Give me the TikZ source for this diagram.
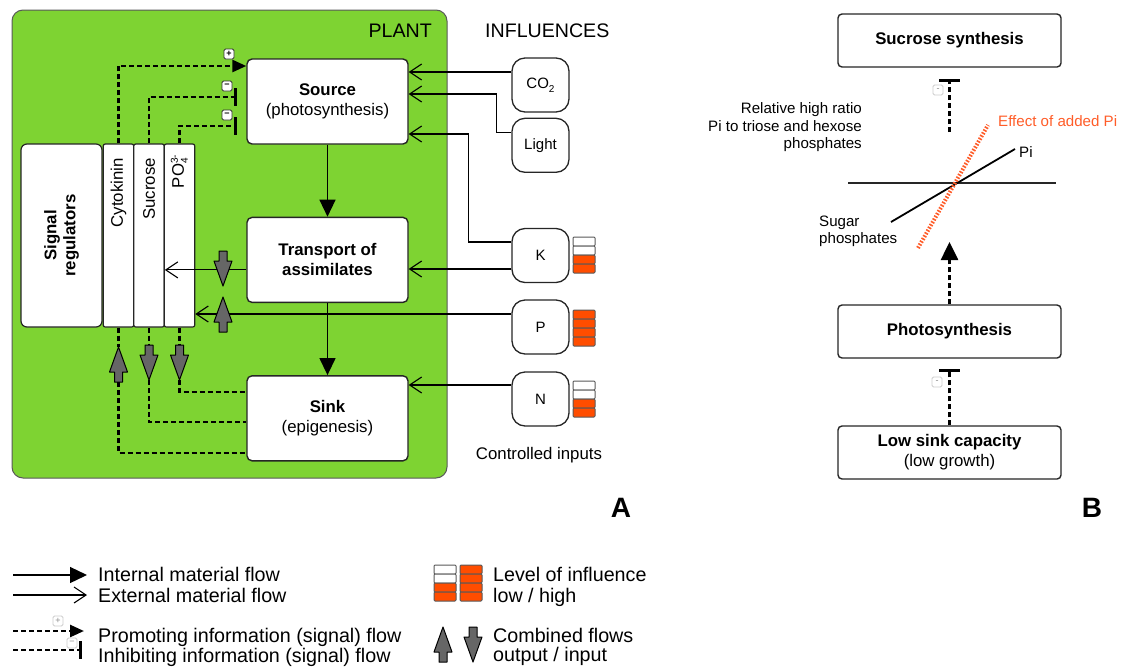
\documentclass[tikz,border=0pt]{standalone}
\usepackage{xcolor}
\usepackage{fontspec}
\setmainfont{Liberation Sans}
\usepackage{tikz}
\usetikzlibrary{arrows.meta, positioning}

\definecolor{plantgreen}{RGB}{126,211,50}
\definecolor{levelorange}{RGB}{255,77,0}
\definecolor{effectorange}{RGB}{255,92,40}

\tikzset{
  box/.style={draw=black!85, line width=1.4pt, fill=white, rounded corners=5pt,
    minimum width=161pt, minimum height=85pt, inner sep=0pt, align=center,
    font=\fontsize{16.8}{20}\selectfont},
  bbox/.style={box, minimum width=223pt, minimum height=53pt, rounded corners=4pt},
  colbox/.style={draw=black!85, line width=1.2pt, fill=white, rounded corners=2pt,
    minimum width=30.5pt, minimum height=183pt, inner sep=0pt},
  inbox/.style={draw=black!85, line width=1.3pt, fill=white, rounded corners=13pt,
    minimum width=57pt, minimum height=54pt, inner sep=0pt,
    font=\fontsize{15}{17}\selectfont},
  txt/.style={inner sep=0pt, font=\fontsize{16.8}{20}\selectfont},
  headtxt/.style={inner sep=0pt, font=\fontsize{19.6}{22}\selectfont},
  smalltxt/.style={inner sep=0pt, font=\fontsize{15.1}{18}\selectfont},
  legtxt/.style={inner sep=0pt, font=\fontsize{19.7}{22}\selectfont},
  signbox/.style={draw=black!80, fill=white, line width=0.8pt, rounded corners=1.5pt,
    minimum size=10pt, inner sep=0pt, font=\fontsize{9}{9}\selectfont\bfseries},
  faintsign/.style={signbox, draw=black!20, text=black!45, font=\fontsize{9}{9}\selectfont},
  intflow/.style={line width=1.3pt, -{Triangle[width=16pt,length=17pt]}},
  extflow/.style={line width=1.1pt, -{Straight Barb[width=16pt,length=12pt]}},
  signal/.style={line width=2.6pt, dash pattern=on 5pt off 3pt},
  promote/.style={signal, -{Triangle[width=12pt,length=14pt]}},
  bigpromote/.style={signal, -{Triangle[width=17pt,length=18pt]}},
  inhibit/.style={signal, -{Bar[width=18pt,line width=3.2pt]}},
  wideinhibit/.style={signal, -{Bar[width=21pt,line width=3.2pt]}},
  combflow/.style={draw=black, fill=black!60, line width=1pt, line join=round},
  levelcell/.style={draw=black!65, line width=1pt, rounded corners=1pt}
}

% block arrows for combined flows (tip at the named point)
\newcommand{\flowup}[1]{\draw[combflow] (#1) -- ++(9,25) -- ++(-5,0) -- ++(0,10) -- ++(-8,0) -- ++(0,-10) -- ++(-5,0) -- cycle;}
\newcommand{\flowdown}[1]{\draw[combflow] (#1) -- ++(9,-25) -- ++(-5,0) -- ++(0,-10) -- ++(-8,0) -- ++(0,10) -- ++(-5,0) -- cycle;}
% level of influence: x, top y, number of empty cells
\newcommand{\levelbar}[3]{%
  \foreach \lv in {0,...,3}{%
    \ifnum\lv<#3\relax \def\lvfill{white}\else \def\lvfill{levelorange}\fi
    \draw[levelcell, fill=\lvfill] (#1,#2+9*\lv) rectangle ++(22,9);
  }}

\begin{document}
\begin{tikzpicture}[x=1pt, y=-1pt]
  \useasboundingbox (0,0) rectangle (1122,670);
  % Plant
  \draw[fill=plantgreen, draw=black!65, line width=1pt, rounded corners=11pt] (12,10) rectangle (447,478);
  \node[headtxt, anchor=base east] (plant) at (432,37) {PLANT};
  \node[headtxt, anchor=base west] (influences) at (485,37) {INFLUENCES};

  % Processes
  \node[box] (src) at (327.5,101.5) {\textbf{Source}\\(photosynthesis)};
  \node[box, below=72pt of src] (trans) {\textbf{Transport of}\\\textbf{assimilates}};
  \node[box, below=72pt of trans] (sink) {\textbf{Sink}\\(epigenesis)};

  % Signal regulators
  \node[colbox, rounded corners=6pt, minimum width=81pt] (sigreg) at (61.5,235.5) {};
  \node[txt, rotate=90, align=center, font=\fontsize{16.8}{19}\selectfont\bfseries] (sigtxt) at (sigreg) {Signal\\regulators};
  \node[colbox] (cyto) at (118.5,235.5) {};
  \node[colbox] (suc) at (149,235.5) {};
  \node[colbox] (po) at (179.5,235.5) {};
  \node[txt, rotate=90, anchor=east] (cytotxt) at (118.5,158) {Cytokinin};
  \node[txt, rotate=90, anchor=east] (suctxt) at (149,158) {Sucrose};
  \node[txt, rotate=90, anchor=east] (potxt) at (179.5,158) {PO\rlap{\fontsize{10}{10}\selectfont\raisebox{6pt}{3-}}\raisebox{-4pt}{\fontsize{10}{10}\selectfont 4}};

  % Influences
  \node[inbox] (co2) at (540.5,85) {CO\raisebox{-4pt}{\fontsize{10}{10}\selectfont 2}};
  \node[inbox, below=5pt of co2] (light) {Light};
  \node[inbox] (kbox) at (540.5,255.5) {K};
  \node[inbox] (pbox) at (540.5,327) {P};
  \node[inbox] (nbox) at (540.5,399) {N};
  \node[txt, anchor=base] (ctrl) at (539,459) {Controlled inputs};
  \levelbar{573}{237}{2}
  \levelbar{573}{310}{0}
  \levelbar{573}{381}{2}

  % Internal material flow
  \draw[intflow] (src) -- (trans);
  \draw[intflow] (trans) -- (sink);

  % External material flow
  \coordinate (co2out) at ([yshift=13pt]co2.west);
  \draw[extflow] (co2out) -- (co2out -| src.east);
  \draw[extflow] ([yshift=13pt]light.west) -- ++(-15,0) |- ([yshift=7.5pt]src.east);
  \draw[extflow] ([yshift=13.5pt]kbox.west) -- ++(-43,0) |- ([yshift=-32.5pt]src.east);
  \coordinate (kout) at ([yshift=-13.5pt]kbox.west);
  \draw[extflow] (kout) -- (kout -| trans.east);
  \coordinate (pout) at ([yshift=13pt]pbox.west);
  \draw[extflow] (pout) -- (pout -| po.east);
  \coordinate (nout) at ([yshift=14pt]nbox.west);
  \draw[extflow] (nout) -- (nout -| sink.east);
  \coordinate (transout) at ([yshift=-10pt]trans.west);
  \draw[extflow] (transout) -- (transout -| suc.east);

  % Signals to source
  \draw[promote] (cyto.north) |- ([yshift=35.5pt]src.west);
  \draw[inhibit] (suc.north) |- ([xshift=-9pt,yshift=4.5pt]src.west);
  \draw[inhibit] (po.north) |- ([xshift=-9pt,yshift=-24.5pt]src.west);
  \node[signbox] (plus) at (229,54) {+};
  \node[signbox] (minusa) at (227,86) {−};
  \node[signbox] (minusb) at (227,115) {−};

  % Combined flows at transport
  \coordinate (transin) at (223,286);
  \coordinate (transback) at (223,297);
  \flowdown{transin}
  \flowup{transback}

  % Signals from sink
  \coordinate (cytoup) at (118.5,347);
  \coordinate (sucdown) at (149,380);
  \coordinate (podown) at (179.5,380);
  \draw[signal] (cyto.south) -- (cytoup);
  \draw[signal] ([yshift=-35pt]cytoup) |- ([yshift=-34.5pt]sink.west);
  \draw[signal] (suc.south) -- ([yshift=35pt]sucdown);
  \draw[signal] (sucdown) |- ([yshift=-3.5pt]sink.west);
  \draw[signal] (po.south) -- ([yshift=35pt]podown);
  \draw[signal] (podown) |- ([yshift=26.5pt]sink.west);
  \flowup{cytoup}
  \flowdown{sucdown}
  \flowdown{podown}

  \node[inner sep=0pt, anchor=base, font=\fontsize{28}{30}\selectfont\bfseries] (panela) at (621,517) {A};

  % Panel B
  \node[bbox] (sucsyn) at (949.5,40.5) {\textbf{Sucrose synthesis}};
  \node[bbox] (photo) at (949.5,331.5) {\textbf{Photosynthesis}};
  \node[bbox] (lowsink) at (949.5,452.5) {\textbf{Low sink capacity}\\(low growth)};
  \coordinate (ratio) at (949.5,132);
  \coordinate (phtip) at (949.5,242);
  \draw[wideinhibit] (ratio) -- ([yshift=-11pt]sucsyn.south);
  \draw[bigpromote] (photo.north) -- (phtip);
  \draw[wideinhibit] (lowsink.north) -- ([yshift=-10pt]photo.south);
  \node[faintsign] (minusc) at (938,90) {-};
  \node[faintsign] (minusd) at (937,382) {-};
  % ratio lines
  \coordinate (axisl) at (848,183);
  \coordinate (axisr) at (1056,183);
  \coordinate (pilow) at (891,222);
  \coordinate (pihigh) at (1015,149);
  \coordinate (effl) at (918,248);
  \coordinate (effh) at (988,125);
  \draw[line width=1.1pt, black!85] (axisl) -- (axisr);
  \draw[line width=1.8pt] (pilow) -- (pihigh);
  \draw[effectorange, line width=4pt, dash pattern=on 1.6pt off 1.6pt] (effl) -- (effh);
  \node[smalltxt, anchor=base east] (rat1) at (862,113) {Relative high ratio};
  \node[smalltxt, anchor=base east] (rat2) at (862,131) {Pi to triose and hexose};
  \node[smalltxt, anchor=base east] (rat3) at (862,148) {phosphates};
  \node[smalltxt, anchor=base west, text=effectorange] (efftxt) at (998,126) {Effect of added Pi};
  \node[smalltxt, anchor=base west] (pitxt) at (1019,157) {Pi};
  \node[smalltxt, anchor=base west] (sug1) at (819,226) {Sugar};
  \node[smalltxt, anchor=base west] (sug2) at (819,243) {phosphates};
  \node[inner sep=0pt, anchor=base, font=\fontsize{28}{30}\selectfont\bfseries] (panelb) at (1092,517) {B};

  % Legend
  \coordinate (lgintl) at (13,575); \coordinate (lgintr) at (87,575);
  \coordinate (lgextl) at (13,595); \coordinate (lgextr) at (87,595);
  \coordinate (lgprol) at (13,631); \coordinate (lgpror) at (84,631);
  \coordinate (lginhl) at (13,650); \coordinate (lginhr) at (82,650);
  \draw[intflow] (lgintl) -- (lgintr);
  \draw[extflow] (lgextl) -- (lgextr);
  \draw[promote] (lgprol) -- (lgpror);
  \draw[inhibit] (lginhl) -- (lginhr);
  \node[faintsign] (lgplus) at (58,621) {+};
  \node[faintsign] (lgminus) at (72,643) {−};
  \node[legtxt, anchor=base west] (lgint) at (98,581) {Internal material flow};
  \node[legtxt, anchor=base west] (lgext) at (98,602) {External material flow};
  \node[legtxt, anchor=base west] (lgpro) at (98,642) {Promoting information (signal) flow};
  \node[legtxt, anchor=base west] (lginh) at (98,662) {Inhibiting information (signal) flow};
  \levelbar{434}{565}{2}
  \levelbar{460}{565}{0}
  \coordinate (lgup) at (443,627);
  \coordinate (lgdown) at (473,662);
  \flowup{lgup}
  \flowdown{lgdown}
  \node[legtxt, anchor=base west] (lglev) at (493,581) {Level of influence};
  \node[legtxt, anchor=base west] (lglow) at (493,602) {low / high};
  \node[legtxt, anchor=base west] (lgcomb) at (493,642) {Combined flows};
  \node[legtxt, anchor=base west] (lgout) at (493,661) {output / input};
\end{tikzpicture}
\end{document}
